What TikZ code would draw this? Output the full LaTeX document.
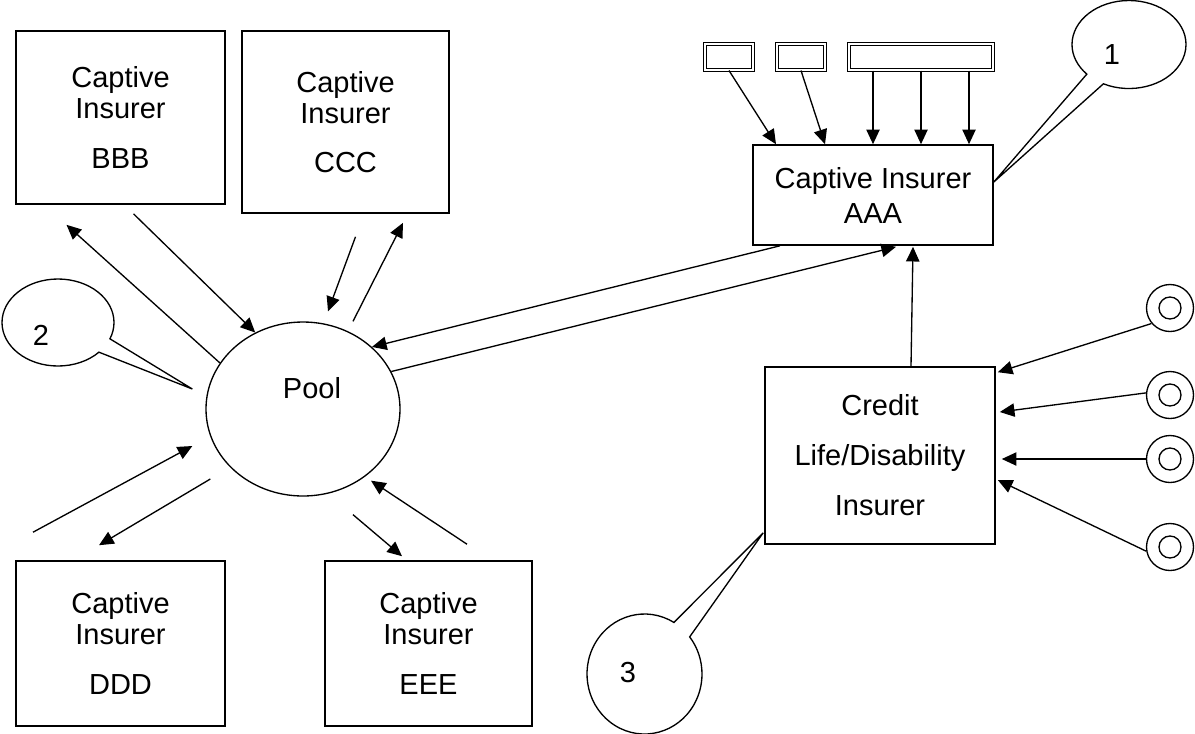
\documentclass[tikz,border=0pt]{standalone}
\usepackage{fontspec}
\setmainfont{Liberation Sans}
\usetikzlibrary{shapes,shapes.callouts,arrows.meta,calc}
\tikzstyle{block} = [rectangle, draw, line width=1.2pt, align=center, inner sep=0pt,
    font=\fontsize{21.75pt}{23.25pt}\selectfont]
\tikzstyle{line} = [draw, line width=1pt, -{Triangle[length=11pt,width=10pt]}]
\tikzstyle{tag} = [rectangle, draw, double, double distance=1.2pt, line width=0.8pt,
    minimum width=36pt, minimum height=19.5pt, inner sep=0pt]
\tikzstyle{bubble} = [ellipse callout, draw, line width=1pt, callout pointer arc=21,
    inner sep=0pt]
\tikzstyle{ring} = [circle, draw, line width=1pt, minimum size=35.25pt, inner sep=0pt,
    path picture={\draw[line width=1pt] (path picture bounding box.center) circle (8.25pt);}]
\tikzstyle{txt} = [inner sep=0pt, font=\fontsize{21.75pt}{23.25pt}\selectfont]

\begin{document}
\begin{tikzpicture}[x=0.75pt, y=-0.75pt]
    \useasboundingbox (0,0) rectangle (1195,733);

    % Place captive insurers
    \node [block, minimum width=156.75pt, minimum height=129.75pt] (bbb) at (120.5,117.5) {Captive\\Insurer\\[14pt]BBB};
    \node [block, minimum width=155.25pt, minimum height=136.5pt] (ccc) at (345.5,122) {Captive\\Insurer\\[14pt]CCC};
    \node [block, minimum width=156.75pt, minimum height=123.75pt] (ddd) at (120.5,643.5) {Captive\\Insurer\\[14pt]DDD};
    \node [block, minimum width=155.25pt, minimum height=123.75pt] (eee) at (428.5,643.5) {Captive\\Insurer\\[14pt]EEE};
    \node [block, minimum width=180pt, minimum height=75pt] (aaa) at (873,195) {Captive Insurer\\[3pt]AAA};
    \node [block, minimum width=172.5pt, minimum height=132.75pt] (credit) at (880,455.5) {Credit\\[14.25pt]Life/Disability\\[14.25pt]Insurer};

    % Place pool
    \node [draw, ellipse, line width=1pt, minimum width=145.5pt, minimum height=130.5pt] (pool) at (303,409) {};
    \node [txt] (pooltxt) at (312,388) {Pool};

    % Place feeders
    \node [tag] (r1) at (729,57) {};
    \node [tag] (r2) at (801,57) {};
    \node [tag, minimum width=108pt] (r3) at (921,57) {};
    \foreach \i/\y in {1/308,2/395,3/459,4/547}
        \node [ring] (d\i) at (1170,\y) {};

    % Place callouts
    \node [bubble, minimum width=85.5pt, minimum height=66pt,
        callout absolute pointer={($(aaa.east)+(0,-13)$)}] (c1) at (1129,44.5) {};
    \node [bubble, minimum width=84pt, minimum height=65.25pt,
        callout absolute pointer={($(pool.west)+(-13,-20)$)}] (c2) at (58,322.5) {};
    \node [bubble, minimum width=86.25pt, minimum height=90pt,
        callout absolute pointer={($(credit.south west)+(-1,-12)$)}] (c3) at (644.5,674) {};
    \node [txt] (n1) at (1112,55) {1};
    \node [txt] (n2) at (41,335) {2};
    \node [txt] (n3) at (628,673) {3};

    % Draw edges
    \path [line] (pool.151) -- ($(bbb.south)+(-54,20)$);
    \path [line] ($(bbb.south)+(13,9)$) -- (pool.122);
    \path [line] ($(ccc.south)+(10,23)$) -- ($(pool.north)+(25,-10)$);
    \path [line] ($(pool.north)+(50,0)$) -- ($(ccc.south)+(57.5,9)$);
    \path [line] ($(aaa.south)+(-93,0)$) -- (pool.42);
    \path [line] (pool.23) -- ($(aaa.south)+(23,1)$);
    \path [line] ($(credit.north)+(31,0)$) -- ($(aaa.south)+(40,1)$);
    \path [line] ($(ddd.north)+(-87.5,-28)$) -- ($(pool.west)+(-13,37)$);
    \path [line] ($(pool.west)+(5,70)$) -- ($(ddd.north)+(-21.5,-15)$);
    \path [line] ($(pool.south)+(50,18)$) -- ($(eee.north)+(-26.5,-4)$);
    \path [line] ($(eee.north)+(38.5,-16)$) -- ($(pool.south)+(68,-16)$);

    % Feeders into AAA
    \path [line] (r1.south) -- ($(aaa.north)+(-97,0)$);
    \path [line] (r2.south) -- ($(aaa.north)+(-48,0)$);
    \foreach \dx in {-48,0,48}
        \path [line] ($(r3.south)+(\dx,0)$) -- ($(r3.south |- aaa.north)+(\dx,0)$);

    % Rings into credit insurer
    \path [line] (d1.220) -- ($(credit.north east)+(2,6)$);
    \path [line] (d2.175) -- ($(credit.east)+(4,-43.5)$);
    \path [line] (d3.west) -- ($(credit.east |- d3.west)+(6,0)$);
    \path [line] (d4.190) -- ($(credit.east)+(2,24.5)$);

\end{tikzpicture}
\end{document}
